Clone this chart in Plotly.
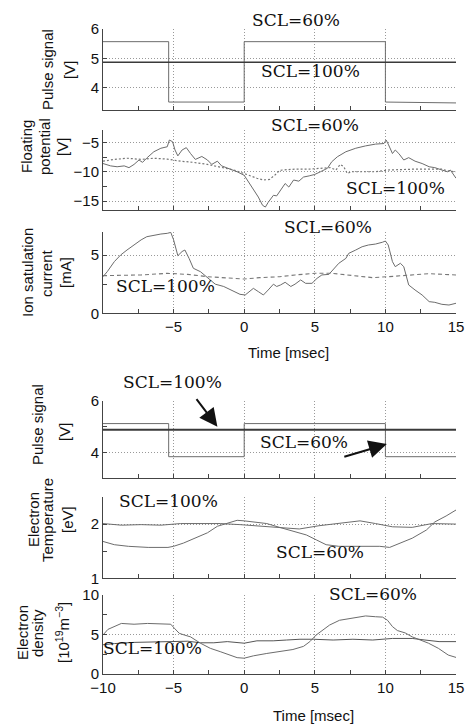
import plotly.graph_objects as go

# ---------------- data ----------------
# Panel 1: pulse signal (upper set)
p1_t60 = [-10, -5.35, -5.35, 0, 0, 10, 10, 15]
p1_v60 = [5.57, 5.57, 3.52, 3.52, 5.57, 5.57, 3.52, 3.49]
p1_t100 = [-10, 15]
p1_v100 = [4.87, 4.87]

# Panel 2: floating potential
p2_t60 = [-10, -9.46, -9.0, -8.5, -8.16, -7.8, -7.45, -7.2, -6.87, -6.4, -5.9, -5.45, -5.3, -5.07,
          -4.9, -4.7, -4.4, -4.1, -3.8, -3.46, -3.0, -2.6, -2.3, -1.9, -1.6, -1.1, -0.5, 0, 0.3, 0.65,
          1.0, 1.3, 1.5, 1.7, 2.07, 2.3, 2.57, 2.9, 3.16, 3.5, 3.87, 4.2, 4.6, 5.0, 5.4, 5.9, 6.2,
          6.6, 7.2, 7.9, 8.6, 9.3, 9.9, 10.05, 10.2, 10.5, 10.7, 10.95, 11.3, 11.65, 12.1, 12.6,
          13.1, 13.5, 14.0, 14.4, 14.6, 15.0]
p2_v60 = [-8.6, -9.0, -9.15, -9.0, -9.3, -8.75, -8.0, -8.4, -7.6, -6.6, -6.0, -5.75, -4.6, -4.9,
          -6.3, -7.3, -6.3, -5.9, -6.9, -7.9, -7.4, -8.0, -8.75, -8.2, -9.0, -9.4, -10.0, -10.6,
          -11.7, -12.8, -14.3, -15.7, -16.0, -15.2, -14.0, -14.1, -13.1, -12.0, -12.6, -11.4,
          -11.6, -10.9, -10.7, -10.45, -10.0, -9.4, -8.3, -7.45, -6.6, -6.0, -5.6, -5.3, -5.2,
          -4.6, -5.3, -6.9, -6.3, -6.9, -8.0, -7.6, -8.2, -8.6, -9.15, -9.3, -9.7, -10.0, -9.7, -11.1]
p2_t100 = [-10, -9.2, -8.3, -7.3, -6.4, -5.45, -4.5, -3.6, -2.6, -1.7, -0.75, 0, 0.4, 0.9, 1.36,
           1.8, 2.2, 2.5, 2.7, 3.6, 4.6, 5.5, 6.1, 6.5, 6.8, 7.05, 7.3, 7.6, 8.3, 9.3, 10.2, 11.2,
           12.1, 13.1, 14.0, 14.5, 15.0]
p2_v100 = [-8.2, -7.9, -7.7, -7.9, -7.7, -7.85, -8.2, -8.4, -8.75, -9.15, -9.7, -10.3, -10.7,
           -11.1, -11.4, -11.3, -10.5, -9.8, -9.7, -9.55, -9.55, -9.4, -9.3, -9.7, -8.75, -9.15,
           -10.3, -10.0, -10.0, -10.0, -9.7, -9.6, -9.55, -9.55, -9.55, -9.9, -10.0]

# Panel 3: ion saturation current
p3_t60 = [-10, -9.7, -9.2, -8.75, -8.3, -7.8, -7.3, -6.9, -6.4, -5.9, -5.45, -5.2, -5.0, -4.7,
          -4.4, -4.2, -3.9, -3.6, -3.1, -2.6, -2.05, -1.45, -0.75, -0.3, 0.07, 0.4, 0.65, 1.0,
          1.36, 1.7, 2.07, 2.3, 2.57, 2.9, 3.3, 3.6, 4.0, 4.35, 4.8, 5.16, 5.5, 6.0, 6.35, 6.7,
          7.2, 7.4, 7.9, 8.35, 8.8, 9.3, 9.8, 10.0, 10.2, 10.5, 10.7, 11.06, 11.3, 11.65, 12.1,
          12.6, 13.1, 13.5, 14.0, 14.5, 15.0]
p3_v60 = [3.14, 3.57, 4.43, 5.0, 5.43, 5.9, 6.3, 6.57, 6.7, 6.8, 6.86, 6.94, 6.3, 4.94, 5.3,
          5.43, 4.7, 3.86, 3.57, 3.06, 2.5, 2.3, 1.9, 1.63, 1.57, 1.86, 2.14, 1.86, 1.57, 2.0,
          2.5, 2.3, 2.43, 2.66, 2.3, 2.5, 2.86, 2.57, 2.57, 3.0, 3.29, 3.34, 3.86, 4.29, 4.71,
          5.14, 5.43, 5.71, 5.86, 5.94, 6.1, 6.2, 5.86, 4.43, 4.0, 4.29, 4.0, 2.43, 2.0, 1.57,
          1.0, 0.94, 0.77, 0.71, 0.86]
p3_t100 = [-10, -8.75, -7.3, -5.45, -4.0, -2.6, -1.2, 0, 1.1, 2.5, 3.6, 5.05, 6.2, 7.6, 9.1,
           10.2, 11.65, 13.1, 15.0]
p3_v100 = [3.23, 3.23, 3.29, 3.43, 3.34, 3.14, 3.0, 2.94, 3.06, 3.14, 3.29, 3.43, 3.43, 3.23,
           3.06, 3.14, 3.29, 3.4, 3.29]

# Panel 4: pulse signal (lower set)
p4_t60 = [-10, -5.35, -5.35, 0, 0, 10, 10, 15]
p4_v60 = [5.12, 5.12, 3.83, 3.83, 5.12, 5.12, 3.83, 3.83]
p4_t100 = [-10, 15]
p4_v100 = [4.88, 4.88]

# Panel 5: electron temperature
p5_t100 = [-10, -8.7, -7.3, -5.9, -4.5, -3.1, -1.7, -0.3, 1.1, 2.5, 3.9, 5.3, 6.7, 8.2, 9.3,
           10.5, 11.9, 13.3, 15.0]
p5_v100 = [2.01, 1.98, 1.99, 1.98, 2.01, 2.01, 2.01, 1.99, 1.96, 1.93, 1.91, 1.97, 2.01, 2.06,
           2.01, 1.95, 1.94, 2.01, 2.0]
p5_t60 = [-10, -9.2, -8.2, -6.8, -5.4, -5.0, -4.3, -3.3, -2.6, -1.9, -1.2, -0.5, 0, 0.65, 1.6,
          2.5, 3.5, 4.4, 5.1, 5.8, 6.7, 8.1, 9.6, 10.3, 11.0, 11.9, 12.9, 13.5, 14.3, 15.0]
p5_v60 = [1.68, 1.62, 1.59, 1.57, 1.57, 1.59, 1.65, 1.77, 1.84, 1.96, 2.02, 2.07, 2.06, 2.04,
          2.01, 1.94, 1.86, 1.8, 1.71, 1.62, 1.59, 1.59, 1.59, 1.57, 1.65, 1.74, 1.89, 2.04,
          2.15, 2.26]

# Panel 6: electron density
p6_t60 = [-10, -9.65, -8.7, -7.8, -6.85, -5.9, -5.2, -4.95, -4.6, -4.25, -3.8, -3.1, -2.4, -1.7,
          -1.0, -0.5, 0, 0.65, 1.6, 2.5, 3.45, 4.2, 4.65, 5.1, 5.6, 6.05, 6.75, 7.7, 8.6, 9.3,
          9.8, 10.15, 10.5, 10.85, 11.4, 11.9, 12.35, 13.05, 13.75, 14.45, 15.0]
p6_v60 = [4.94, 5.65, 6.4, 6.3, 6.4, 6.3, 6.3, 5.8, 5.15, 4.94, 4.7, 3.9, 3.25, 2.83, 2.4,
          2.07, 2.0, 2.3, 2.6, 2.83, 3.1, 3.5, 4.1, 4.94, 5.57, 6.2, 6.8, 7.05, 7.35, 7.25, 7.2,
          6.8, 6.0, 5.5, 5.2, 4.7, 4.4, 3.9, 3.25, 2.4, 2.1]
p6_t100 = [-10, -9.2, -7.8, -6.4, -5.0, -4.0, -3.1, -2.15, -1.2, 0, 0.9, 2.05, 3.0, 3.95, 4.9,
           6.3, 7.7, 9.1, 10.5, 11.9, 12.8, 13.8, 15.0]
p6_v100 = [3.7, 3.85, 4.0, 4.05, 4.1, 4.15, 3.95, 3.95, 4.1, 3.9, 4.2, 4.2, 4.3, 4.4, 4.4, 4.3,
           4.4, 4.3, 4.5, 4.5, 4.3, 4.1, 4.1]

# axis ticks
x_ticks = [-10, -5, 0, 5, 10, 15]
x_labels_mid = ["", "\u22125", "0", "5", "10", "15"]
x_labels_bot = ["\u221210", "\u22125", "0", "5", "10", "15"]

# ---------------- figure ----------------
W, H = 470, 724
XL, XR = 103, 456
panel_px = [(29, 110), (130, 210), (231.7, 313.3), (401, 478), (497, 578.3), (595, 674)]

GRAY = "#6c6c6c"
DARK = "#3a3a3a"
AXC = "#444444"
GRIDC = "#999999"
GRIDDASH = "1px,2px"
SANS = "Liberation Sans, Arial, sans-serif"
SERIF = "DejaVu Serif, serif"

fig = go.Figure()

def add(i, t, v, color=GRAY, width=1, dash="solid"):
    fig.add_trace(go.Scatter(x=t, y=v, mode="lines", xaxis=f"x{i}", yaxis=f"y{i}",
                             line=dict(color=color, width=width, dash=dash),
                             showlegend=False, hoverinfo="skip"))

add(1, p1_t60, p1_v60)
add(1, p1_t100, p1_v100, DARK, 1.6)
add(2, p2_t60, p2_v60)
add(2, p2_t100, p2_v100, "#777777", 1.2, "2px,2px")
add(3, p3_t60, p3_v60)
add(3, p3_t100, p3_v100, "#777777", 1.1, "4px,3px")
add(4, p4_t60, p4_v60)
add(4, p4_t100, p4_v100, DARK, 1.8)
add(5, p5_t100, p5_v100)
add(5, p5_t60, p5_v60)
add(6, p6_t100, p6_v100, "#555555")
add(6, p6_t60, p6_v60)

y_specs = [
    dict(range=[3.25, 6], tickvals=[4, 5, 6], minor=None),
    dict(range=[-16.5, -2.9], tickvals=[-15, -10, -5], ticktext=["\u221215", "\u221210", "\u22125"], minor=2.5),
    dict(range=[0, 7], tickvals=[0, 5], minor=2.5),
    dict(range=[3, 6], tickvals=[4, 6], minor=1),
    dict(range=[1, 2.5], tickvals=[1, 2], minor=0.5),
    dict(range=[0, 10], tickvals=[0, 5, 10], minor=2.5),
]
x_text = [None, None, x_labels_mid, None, None, x_labels_bot]

layout = dict(width=W, height=H, margin=dict(l=0, r=0, t=0, b=0, autoexpand=False), autosize=False,
              paper_bgcolor="white", plot_bgcolor="white", showlegend=False)

for i in range(1, 7):
    top, bot = panel_px[i - 1]
    ydom = [1 - bot / H, 1 - top / H]
    xa = dict(domain=[XL / W, XR / W], range=[-10, 15], anchor=f"y{i}",
              showline=True, linecolor=AXC, linewidth=1, mirror=False,
              ticks="inside", ticklen=4, tickcolor=AXC, tickwidth=1,
              tickmode="array", tickvals=x_ticks,
              showgrid=True, gridcolor=GRIDC, griddash=GRIDDASH, gridwidth=1, zeroline=False,
              minor=dict(tick0=0, dtick=2.5, ticks="inside", ticklen=4, tickcolor=AXC, showgrid=False),
              tickfont=dict(family=SANS, size=15, color="#111"))
    if x_text[i - 1] is None:
        xa["showticklabels"] = False
    else:
        xa["ticktext"] = x_text[i - 1]
    ys = y_specs[i - 1]
    ya = dict(domain=ydom, range=ys["range"], anchor=f"x{i}",
              showline=True, linecolor=AXC, linewidth=1, mirror=False,
              ticks="inside", ticklen=4, tickcolor=AXC, tickwidth=1,
              tickmode="array", tickvals=ys["tickvals"],
              showgrid=True, gridcolor=GRIDC, griddash=GRIDDASH, gridwidth=1, zeroline=False,
              tickfont=dict(family=SANS, size=15, color="#111"))
    if "ticktext" in ys:
        ya["ticktext"] = ys["ticktext"]
    if ys["minor"]:
        ya["minor"] = dict(dtick=ys["minor"], tick0=0, ticks="inside", ticklen=4,
                           tickcolor=AXC, showgrid=False)
    key = "" if i == 1 else str(i)
    layout["xaxis" + key] = xa
    layout["yaxis" + key] = ya

fig.update_layout(**layout)

ann = []
def txt(text, xpx, ypx, size=17, family=SERIF, angle=0, color="#111"):
    ann.append(dict(text=text, x=xpx / W, y=1 - ypx / H, xref="paper", yref="paper",
                    xanchor="center", yanchor="middle", showarrow=False, textangle=angle,
                    font=dict(family=family, size=size, color=color)))

# SCL labels
txt("SCL=60%", 296, 20)
txt("SCL=100%", 310, 71)
txt("SCL=60%", 315, 125)
txt("SCL=100%", 395, 188)
txt("SCL=60%", 328, 227)
txt("SCL=100%", 165, 286)
txt("SCL=100%", 172, 382)
txt("SCL=60%", 304, 442)
txt("SCL=100%", 168, 501)
txt("SCL=60%", 320, 552)
txt("SCL=60%", 373, 594)
txt("SCL=100%", 152, 648)

# y-axis titles (one annotation per line)
ylines = [
    [("Pulse signal", 47, 70), ("[V]", 69, 70)],
    [("Floating", 27, 147), ("potential", 45, 147), ("[V]", 63, 147)],
    [("Ion satulation", 27, 273), ("current", 46, 273), ("[mA]", 65, 273)],
    [("Pulse signal", 37, 425), ("[V]", 64, 432)],
    [("Electron", 33, 520), ("Temperature", 47, 520), ("[eV]", 67, 520)],
    [("Electron", 22, 633), ("density", 37, 633), ("[10<sup>19</sup>m<sup>\u22123</sup>]", 62, 633)],
]
for grp in ylines:
    for (t, xp, yp) in grp:
        txt(t, xp, yp, size=15, family=SANS, angle=-90)

# x-axis titles
txt("Time [msec]", 288, 353, size=15, family=SANS)
txt("Time [msec]", 313, 715, size=15, family=SANS)

# arrows in panel 4
ann.append(dict(x=-1.9, y=5.0, xref="x4", yref="y4", ax=-22, ay=-29, text="",
                showarrow=True, arrowhead=2, arrowsize=1.8, arrowwidth=2, arrowcolor="#111"))
ann.append(dict(x=10.1, y=4.32, xref="x4", yref="y4", ax=-44, ay=13, text="",
                showarrow=True, arrowhead=2, arrowsize=1.8, arrowwidth=2, arrowcolor="#111"))

fig.update_layout(annotations=ann)
fig.write_html("out.html", config={"displayModeBar": False},
               post_script="document.body.style.margin='0';document.body.style.overflow='hidden';")
